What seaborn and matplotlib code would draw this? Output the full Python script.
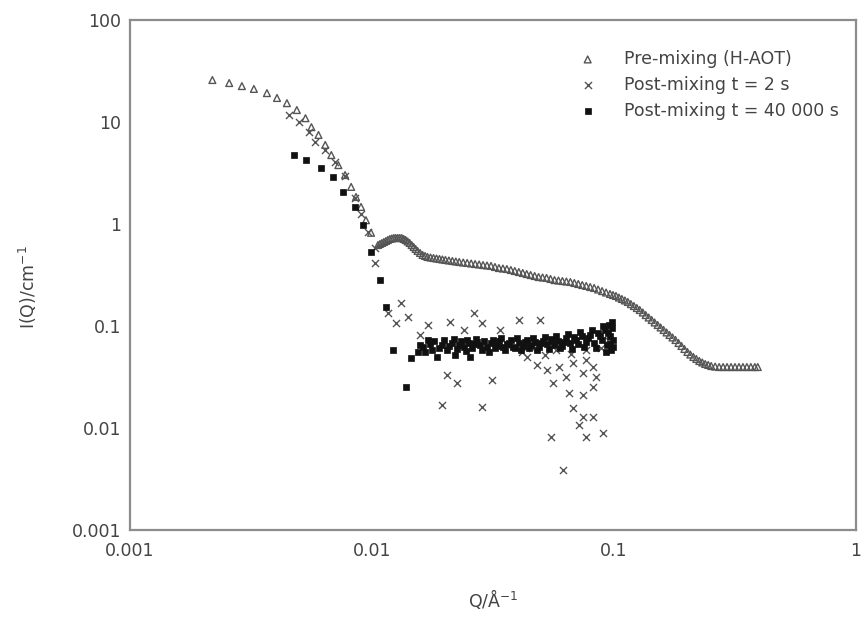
import matplotlib
matplotlib.use("Agg")
import matplotlib.pyplot as plt
import seaborn as sns
import pandas as pd

# ---------------- data ----------------
series_labels = ["Pre-mixing (H-AOT)", "Post-mixing t = 2 s", "Post-mixing t = 40 000 s"]

pre_q = [0.00219, 0.00257, 0.00290, 0.00325, 0.00368, 0.00405, 0.00445, 0.00489, 0.00531, 0.00562,
         0.00601, 0.00641, 0.00679, 0.00726, 0.00774, 0.00820, 0.00859, 0.00901, 0.00944, 0.00991,
         0.01058, 0.01099, 0.01141, 0.01185, 0.01231, 0.01278, 0.01327, 0.01378, 0.01431, 0.01486,
         0.01543, 0.01618, 0.01696, 0.01795, 0.01900, 0.02011, 0.02148, 0.02294, 0.02473, 0.02668,
         0.02877, 0.03103, 0.03346, 0.03608, 0.03891, 0.04198, 0.04524, 0.04880, 0.05264, 0.05677,
         0.06121, 0.06602, 0.07119, 0.07677, 0.08279, 0.08929, 0.09630, 0.1019, 0.1078, 0.1141,
         0.1208, 0.1278, 0.1352, 0.1431, 0.1515, 0.1603, 0.1696, 0.1795, 0.1900, 0.2011,
         0.2128, 0.2252, 0.2382, 0.2522, 0.2719, 0.2932, 0.3162, 0.3410, 0.3677, 0.3927]
pre_i = [25.8, 24.1, 22.5, 21.1, 19.2, 17.2, 15.3, 13.1, 10.9, 8.9,
         7.46, 5.96, 4.74, 3.78, 3.02, 2.31, 1.84, 1.47, 1.09, 0.82,
         0.622, 0.651, 0.681, 0.713, 0.729, 0.729, 0.729, 0.697, 0.651, 0.595,
         0.544, 0.497, 0.475, 0.464, 0.454, 0.444, 0.434, 0.424, 0.415, 0.405,
         0.396, 0.388, 0.370, 0.362, 0.346, 0.331, 0.316, 0.302, 0.296, 0.282,
         0.276, 0.270, 0.258, 0.247, 0.236, 0.220, 0.206, 0.197, 0.184, 0.172,
         0.157, 0.1435, 0.128, 0.1145, 0.1023, 0.0914, 0.0816, 0.0729, 0.0637, 0.0556,
         0.0497, 0.0454, 0.0424, 0.0405, 0.0396, 0.0396, 0.0396, 0.0396, 0.0396, 0.0396]
# further pre-mixing points read along the densely sampled high-Q part
pre_q_hi = [0.01078, 0.01120, 0.01163, 0.01208, 0.01254, 0.01302, 0.01352, 0.01404, 0.01458, 0.01514,
            0.01580, 0.01657, 0.01745, 0.01847, 0.01954, 0.02078, 0.02220, 0.02382, 0.02569, 0.02771,
            0.02988, 0.03222, 0.03475, 0.03748, 0.04043, 0.04358, 0.04700, 0.05068, 0.05466, 0.05895,
            0.06357, 0.06857, 0.07393, 0.07972, 0.08598, 0.09273, 0.09906, 0.1048, 0.1109, 0.1174,
            0.1243, 0.1315, 0.1391, 0.1472, 0.1558, 0.1649, 0.1745, 0.1847, 0.1954, 0.2068,
            0.2189, 0.2316, 0.2451, 0.2618, 0.2824, 0.3045, 0.3284, 0.3541, 0.3819]
pre_i_hi = [0.637, 0.666, 0.697, 0.721, 0.729, 0.729, 0.713, 0.674, 0.622, 0.569,
            0.520, 0.486, 0.469, 0.459, 0.449, 0.439, 0.429, 0.419, 0.410, 0.401,
            0.392, 0.379, 0.366, 0.354, 0.338, 0.323, 0.309, 0.299, 0.289, 0.279,
            0.273, 0.264, 0.252, 0.241, 0.228, 0.213, 0.2013, 0.190, 0.178, 0.164,
            0.150, 0.1356, 0.1211, 0.1082, 0.0967, 0.0864, 0.0772, 0.0681, 0.0595, 0.0525,
            0.0475, 0.0439, 0.0415, 0.0400, 0.0396, 0.0396, 0.0396, 0.0396, 0.0396]

t2_q = [0.00452, 0.00497, 0.00547, 0.00584, 0.00641, 0.00705, 0.00774, 0.00851, 0.00901, 0.00963,
        0.01029, 0.01029, 0.01315, 0.01163, 0.01404, 0.01254, 0.01696, 0.01573, 0.02108, 0.02643,
        0.02404, 0.02851, 0.03378, 0.04043, 0.04926, 0.02048, 0.02252, 0.03132, 0.01954, 0.02851,
        0.04358, 0.04790, 0.05264, 0.05952, 0.06357, 0.05623, 0.06540, 0.07464, 0.08202, 0.08438,
        0.08202, 0.06792, 0.07677, 0.07464, 0.06792, 0.07464, 0.07187, 0.08202, 0.05517, 0.07677,
        0.09015, 0.06180, 0.03608, 0.04158, 0.04568, 0.05164, 0.05785, 0.06665, 0.07677, 0.08845,
        0.09449]
t2_i = [11.7, 10.0, 7.98, 6.36, 5.32, 4.05, 2.96, 1.80, 1.25, 0.835,
        0.582, 0.415, 0.168, 0.134, 0.1225, 0.1070, 0.1023, 0.0816, 0.1095, 0.134,
        0.0914, 0.1070, 0.0914, 0.1145, 0.1145, 0.0331, 0.0276, 0.0296, 0.0168, 0.0161,
        0.0497, 0.0415, 0.0371, 0.0396, 0.0316, 0.0276, 0.0220, 0.0211, 0.0252, 0.0316,
        0.0396, 0.0434, 0.0464, 0.0346, 0.0157, 0.0128, 0.0107, 0.0128, 0.00816, 0.00816,
        0.00893, 0.00387, 0.0651, 0.0556, 0.0608, 0.0520, 0.0582, 0.0531, 0.0582, 0.0608,
        0.0729]

t40k_q = [0.00474, 0.00536, 0.00618, 0.00692, 0.00760, 0.00851, 0.00918, 0.00991, 0.01078, 0.01140,
          0.01219, 0.01377, 0.01445,
          0.01543, 0.01618, 0.01696, 0.01778, 0.01864, 0.01954, 0.02048, 0.02148, 0.02211, 0.02294,
          0.02404, 0.02473, 0.02545, 0.02643, 0.02719, 0.02851, 0.02988, 0.03103, 0.03222, 0.03346,
          0.03475, 0.03608, 0.03748, 0.03891, 0.04043, 0.04198, 0.04358, 0.04524, 0.04700, 0.04880,
          0.05068, 0.05264, 0.05466, 0.05677, 0.05895, 0.06121, 0.06357, 0.06602, 0.06857, 0.07119,
          0.07393, 0.07677, 0.07972, 0.08279, 0.08598, 0.08929, 0.09185, 0.09360, 0.09539, 0.09630,
          0.09721, 0.09813, 0.09906]
t40k_i = [4.75, 4.24, 3.54, 2.89, 2.06, 1.47, 0.977, 0.531, 0.282, 0.1535,
          0.0582, 0.0252, 0.0486,
          0.0556, 0.0622, 0.0729, 0.0582, 0.0497, 0.0651, 0.0582, 0.0681, 0.0520, 0.0651,
          0.0622, 0.0729, 0.0497, 0.0666, 0.0697, 0.0582, 0.0622, 0.0681, 0.0608, 0.0713,
          0.0622, 0.0666, 0.0729, 0.0608, 0.0681, 0.0637, 0.0729, 0.0651, 0.0697, 0.0622,
          0.0713, 0.0666, 0.0745, 0.0651, 0.0713, 0.0637, 0.0763, 0.0681, 0.0780, 0.0666,
          0.0798, 0.0697, 0.0816, 0.0681, 0.0854, 0.0729, 0.0914, 0.0651, 0.1023, 0.0798,
          0.0582, 0.0958, 0.0729]
# more 40 000 s points read inside the dense band
t40k_q_band = [0.01573, 0.01649, 0.01729, 0.01812, 0.01900, 0.01992, 0.02088, 0.02189, 0.02252, 0.02338,
               0.02451, 0.02521, 0.02593, 0.02693, 0.02797, 0.02904, 0.03045, 0.03162, 0.03284, 0.03410,
               0.03541, 0.03677, 0.03819, 0.03966, 0.04118, 0.04276, 0.04441, 0.04611, 0.04790, 0.04972,
               0.05164, 0.05363, 0.05569, 0.05785, 0.06007, 0.06238, 0.06479, 0.06728, 0.06987, 0.07256,
               0.07534, 0.07824, 0.08125, 0.08438, 0.08762, 0.09015, 0.09273, 0.09449, 0.09630, 0.09813,
               0.09906]
t40k_i_band = [0.0651, 0.0556, 0.0666, 0.0713, 0.0608, 0.0729, 0.0637, 0.0745, 0.0595, 0.0713,
               0.0569, 0.0681, 0.0608, 0.0745, 0.0651, 0.0713, 0.0556, 0.0729, 0.0637, 0.0763,
               0.0582, 0.0681, 0.0622, 0.0763, 0.0582, 0.0697, 0.0608, 0.0763, 0.0582, 0.0681,
               0.0780, 0.0595, 0.0713, 0.0798, 0.0608, 0.0697, 0.0835, 0.0595, 0.0729, 0.0873,
               0.0622, 0.0763, 0.0914, 0.0608, 0.0798, 0.1000, 0.0556, 0.0854, 0.0666, 0.1095,
               0.0622]

x_ticks = [0.001, 0.01, 0.1, 1]
x_tick_labels = ["0.001", "0.01", "0.1", "1"]
y_ticks = [0.001, 0.01, 0.1, 1, 10, 100]
y_tick_labels = ["0.001", "0.01", "0.1", "1", "10", "100"]

# ---------------- plotting ----------------
sns.set_theme(style="white")
plt.rcParams["font.family"] = ["DejaVu Sans"]
plt.rcParams["mathtext.default"] = "regular"

FS = 12.5
TXT = "#444444"
SPINE = "#8c8c8c"

fig = plt.figure(figsize=(8.63, 6.18), dpi=100)
ax = fig.add_axes([130 / 863, 88 / 618, 726 / 863, 510 / 618])

df_pre = pd.DataFrame({"Q": pre_q + pre_q_hi, "I": pre_i + pre_i_hi})
df_t2 = pd.DataFrame({"Q": t2_q, "I": t2_i})
df_t40k = pd.DataFrame({"Q": t40k_q + t40k_q_band, "I": t40k_i + t40k_i_band})

sns.scatterplot(data=df_pre, x="Q", y="I", ax=ax, marker="^", s=24,
                color="#555555", facecolors="none", edgecolor="#555555",
                linewidth=1.0, label=series_labels[0], zorder=3)
sns.scatterplot(data=df_t2, x="Q", y="I", ax=ax, marker="x", s=26,
                color="#555555", linewidth=1.0, label=series_labels[1], zorder=4)
sns.scatterplot(data=df_t40k, x="Q", y="I", ax=ax, marker="s", s=22,
                color="#111111", edgecolor="#111111", linewidth=0.5,
                label=series_labels[2], zorder=5)

ax.set_xscale("log")
ax.set_yscale("log")
ax.set_xlim(0.001, 1)
ax.set_ylim(0.001, 100)
ax.set_xticks(x_ticks)
ax.set_xticklabels(x_tick_labels)
ax.set_yticks(y_ticks)
ax.set_yticklabels(y_tick_labels)
ax.xaxis.set_minor_locator(matplotlib.ticker.NullLocator())
ax.yaxis.set_minor_locator(matplotlib.ticker.NullLocator())

for sp in ax.spines.values():
    sp.set_visible(True)
    sp.set_color(SPINE)
    sp.set_linewidth(1.6)

ax.tick_params(axis="both", which="major", direction="out", length=4, width=1,
               color=SPINE, labelcolor=TXT, labelsize=FS)
ax.tick_params(axis="x", pad=4.5)
ax.tick_params(axis="y", pad=2.5)

ax.set_xlabel("Q/Å$^{-1}$", fontsize=FS, color=TXT)
ax.set_ylabel("I(Q)/cm$^{-1}$", fontsize=FS, color=TXT)
ax.xaxis.set_label_coords(0.5, -0.112)
ax.yaxis.set_label_coords(-0.125, 0.476)

leg = ax.legend(loc="upper left", bbox_to_anchor=(579 / 863, 1 - 50 / 618),
                bbox_transform=fig.transFigure, frameon=False, borderpad=0,
                borderaxespad=0, handlelength=1.0, handletextpad=1.6,
                labelspacing=0.45, fontsize=FS)
for t in leg.get_texts():
    t.set_color(TXT)

fig.savefig("out.png", dpi=100)
